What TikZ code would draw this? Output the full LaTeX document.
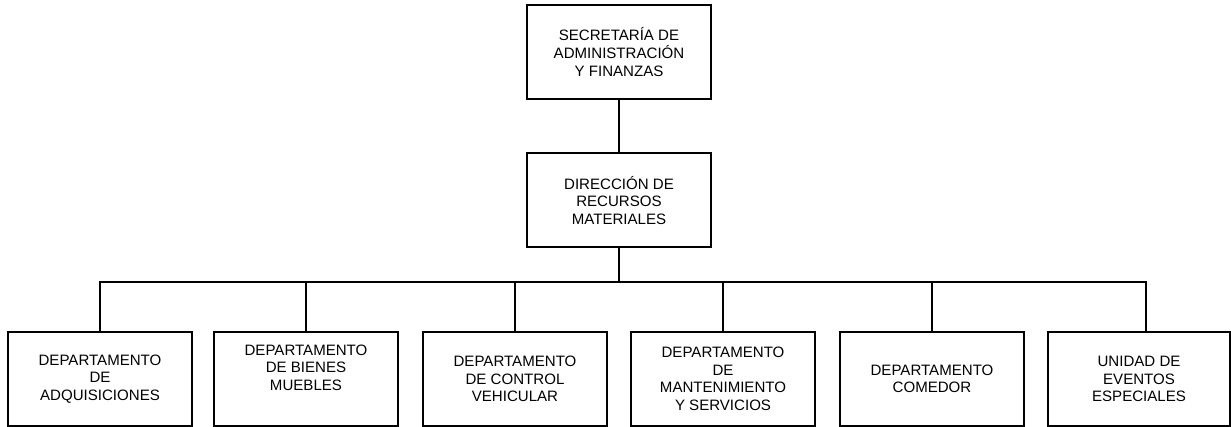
\documentclass[tikz,border=0pt]{standalone}
\usepackage{fontspec}
\setmainfont{Liberation Sans}
\begin{document}
\begin{tikzpicture}[x=0.75pt,y=-0.75pt,
  box/.style={draw,line width=1.5pt,minimum width=138pt,minimum height=70.5pt,align=center,inner sep=2pt,
    font=\fontsize{11.3}{13.2}\selectfont},
  conn/.style={line width=1.5pt}]
\useasboundingbox (0,0) rectangle (1231,427);
\node[box] (top) at (619,52) {SECRETARÍA DE\\ADMINISTRACIÓN\\Y FINANZAS};
\node[box] (mid) at (619,200.5) {DIRECCIÓN DE\\RECURSOS\\MATERIALES};
\node[box] (b1) at (100,379) {DEPARTAMENTO\\DE\\ADQUISICIONES};
\node[box] (b2) at (306,379) {DEPARTAMENTO\\DE BIENES\\MUEBLES\\\strut};
\node[box] (b3) at (515,379) {DEPARTAMENTO\\DE CONTROL\\VEHICULAR};
\node[box] (b4) at (723,379) {DEPARTAMENTO\\DE\\MANTENIMIENTO\\Y SERVICIOS};
\node[box] (b5) at (932,379) {DEPARTAMENTO\\COMEDOR};
\node[box,minimum width=136.5pt] (b6) at (1139,379) {UNIDAD DE\\EVENTOS\\ESPECIALES};
\coordinate (bus) at (619,282);
\draw[conn] (top) -- (mid);
\draw[conn] (mid.south) -- (bus);
\draw[conn] (b1.north) |- (bus) -| ([xshift=5pt]b6.north);
\foreach \b in {b2,b3,b4,b5} \draw[conn] (\b.north) -- (\b.north |- bus);
\end{tikzpicture}
\end{document}
